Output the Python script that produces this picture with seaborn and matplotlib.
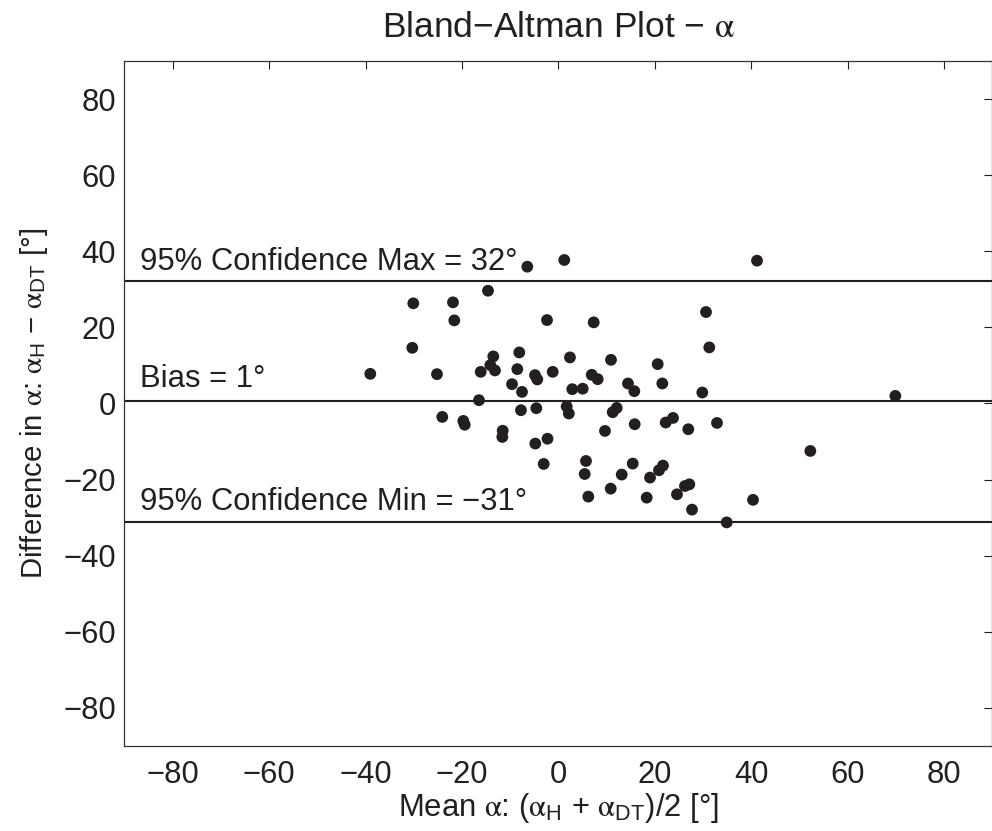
import numpy as np
import pandas as pd
import matplotlib
matplotlib.use("Agg")
import matplotlib.pyplot as plt
import seaborn as sns

# ---- data ----
mean_alpha = [
    -6.47, 1.20, -14.62, -30.11, -21.88, -21.61, -2.38, -30.32, -8.13, -13.52,
    2.38, -39.03, -25.20, -16.13, -14.14, -13.17, -8.54, -4.87, -4.40, -1.20,
    -9.64, -7.57, 2.86, -16.49, -24.10, -19.74, -19.45, -7.78, -4.60, 1.70,
    2.14, -11.57, -11.65, -4.81, -2.28, -3.07, 41.17, 30.59, 7.30, 31.27,
    10.89, 20.57, 6.89, 8.13, 5.02, 14.41, 15.72, 21.53, 29.82, 12.07,
    11.24, 15.80, 22.23, 23.75, 26.92, 32.87, 9.64, 5.70, 5.43, 6.18,
    10.83, 13.11, 15.39, 18.98, 20.84, 21.67, 18.29, 24.57, 26.23, 27.13,
    27.69, 40.34, 34.88, 69.85, 52.22,
]
diff_alpha = [
    35.95, 37.71, 29.63, 26.32, 26.58, 21.84, 21.92, 14.63, 13.42, 12.37,
    12.11, 7.79, 7.71, 8.32, 10.08, 8.68, 9.03, 7.45, 6.32, 8.32,
    5.08, 3.05, 3.76, 0.87, -3.53, -4.58, -5.58, -1.76, -1.24, -0.79,
    -2.63, -7.16, -8.79, -10.53, -9.26, -15.89, 37.53, 24.03, 21.32, 14.74,
    11.47, 10.34, 7.53, 6.39, 3.89, 5.26, 3.24, 5.26, 2.89, -1.16,
    -2.29, -5.45, -5.00, -3.79, -6.76, -5.11, -7.21, -15.11, -18.53, -24.47,
    -22.37, -18.68, -15.79, -19.47, -17.55, -16.32, -24.74, -23.87, -21.68, -21.24,
    -27.89, -25.32, -31.24, 2.00, -12.47,
]
bias = 0.6
loa_upper = 32.3
loa_lower = -31.1
ticks = [-80, -60, -40, -20, 0, 20, 40, 60, 80]

df = pd.DataFrame({"mean": mean_alpha, "diff": diff_alpha})

sns.set_theme(style="white")
plt.rcParams["font.family"] = ["Liberation Sans", "DejaVu Sans"]
plt.rcParams["mathtext.fontset"] = "custom"
plt.rcParams["mathtext.rm"] = "Liberation Sans"
plt.rcParams["mathtext.it"] = "STIXGeneral"
plt.rcParams["mathtext.bf"] = "Liberation Sans:bold"
plt.rcParams["axes.unicode_minus"] = True

FS = 22.3
INK = "#231f20"

fig = plt.figure(figsize=(9.92, 8.31), dpi=100)
ax = fig.add_axes([0.1255, 0.1023, 0.875, 0.8243])

sns.scatterplot(data=df, x="mean", y="diff", ax=ax, s=72, color=INK,
                edgecolor="none", linewidth=0, zorder=3)

for val in (loa_upper, bias, loa_lower):
    ax.axhline(val, color=INK, lw=1.5, zorder=2)

ax.text(-86.7, 35.1, f"95% Confidence Max = {round(loa_upper)}\u00b0",
        fontsize=FS, color=INK, va="baseline", ha="left")
ax.text(-86.7, 4.4, f"Bias = {round(bias)}\u00b0",
        fontsize=FS, color=INK, va="baseline", ha="left")
ax.text(-86.7, -28.1, f"95% Confidence Min = \u2212{abs(round(loa_lower))}\u00b0",
        fontsize=FS, color=INK, va="baseline", ha="left")

ax.set_xlim(-90, 90)
ax.set_ylim(-90, 90)
ax.set_xticks(ticks)
ax.set_yticks(ticks)
ax.tick_params(direction="in", top=True, right=True, length=6, width=0.8,
               labelsize=FS, colors=INK)
ax.tick_params(axis="x", pad=10)
ax.tick_params(axis="y", pad=6)
for sp in ax.spines.values():
    sp.set_visible(True)
    sp.set_linewidth(0.9)
    sp.set_color("#333333")

ax.set_xlabel(r"Mean $\alpha$: ($\alpha_{\mathrm{H}}$ + $\alpha_{\mathrm{DT}}$)/2 [°]",
              fontsize=FS, color=INK, labelpad=1)
ax.set_ylabel(r"Difference in $\alpha$: $\alpha_{\mathrm{H}}$ $-$ $\alpha_{\mathrm{DT}}$ [°]",
              fontsize=21.2, color=INK, labelpad=10)
ax.set_title("Bland\u2212Altman Plot \u2212 $\\alpha$", fontsize=25.5, color=INK, pad=17)

fig.savefig("out.png", dpi=100, facecolor="white")
